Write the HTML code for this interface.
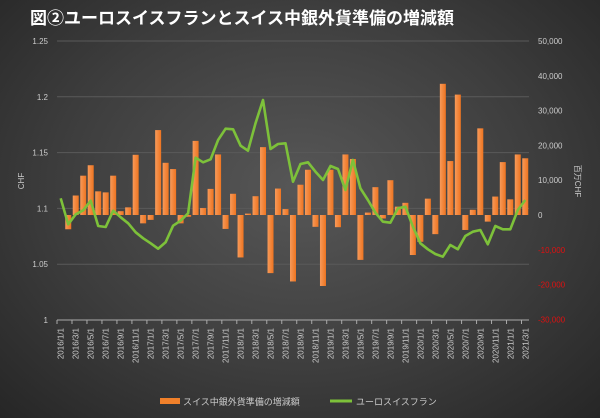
<!DOCTYPE html>
<html><head><meta charset="utf-8"><style>
html,body{margin:0;padding:0;}
body{width:600px;height:418px;overflow:hidden;background:radial-gradient(ellipse at 50% 45%,#575757 0%,#3e3e3e 55%,#262626 100%);font-family:"Liberation Sans","Noto Sans CJK JP",sans-serif;}
svg{position:absolute;left:0;top:0;}
</style></head><body>
<svg id="s" width="600" height="418" xmlns="http://www.w3.org/2000/svg">
<defs><linearGradient id="bg" x1="0" x2="1"><stop offset="0" stop-color="#f79a5a"/><stop offset="1" stop-color="#ee7420"/></linearGradient></defs>
<text x="30" y="24" fill="#fff" font-size="17" font-weight="bold" font-family="Liberation Sans,Noto Sans CJK JP,sans-serif">図②ユーロスイスフランとスイス中銀外貨準備の増減額</text>
<g id="grid"></g><g id="bars"></g><g id="ln"></g><g id="lab"></g>
<g transform="translate(160,398)"><rect x="0" y="0" width="20" height="6" fill="#f0802a"/><text x="23" y="7" fill="#ccc" font-size="9" font-family="Liberation Sans,Noto Sans CJK JP,sans-serif">スイス中銀外貨準備の増減額</text></g>
<g transform="translate(330,401)"><line x1="0" y1="0" x2="22" y2="0" stroke="#7dc13a" stroke-width="3"/><text x="26" y="4" fill="#ccc" font-size="9" font-family="Liberation Sans,Noto Sans CJK JP,sans-serif">ユーロスイスフラン</text></g>
<text transform="translate(24,181) rotate(-90)" text-anchor="middle" fill="#ccc" font-size="8">CHF</text>
<text transform="translate(575,181) rotate(90)" text-anchor="middle" fill="#ccc" font-size="8" font-family="Liberation Sans,Noto Sans CJK JP,sans-serif">百万CHF</text>
</svg>
<script>
const NS="http://www.w3.org/2000/svg";
function el(p,t,a,txt){const e=document.createElementNS(NS,t);for(const k in a)e.setAttribute(k,a[k]);if(txt!=null)e.textContent=txt;document.getElementById(p).appendChild(e);return e;}
const X0=57,X1=529,N=63,st=(X1-X0)/N;
const cx=i=>X0+st*(i+0.5);
const yL=v=>320-(v-1)*1116, yR=v=>215-v*0.00348;
// grid
for(let k=0;k<=5;k++){const y=41+k*55.8;
 if(k<5)el("grid","line",{x1:X0,x2:X1,y1:y,y2:y,stroke:"#5a5a5a","stroke-width":1});
 el("grid","text",{x:48,y:y+3,"text-anchor":"end",fill:"#ccc","font-size":8},(1.25-k*0.05).toFixed(k==5?0:2).replace(/0$/,"").replace(/^1\.$/,"1").replace(/^1\.2$/,"1.2"));
}
const rl=["50,000","40,000","30,000","20,000","10,000","0","-10,000","-20,000","-30,000"];
for(let k=0;k<9;k++){const y=41+k*34.8;el("grid","text",{x:538,y:y+3,fill:k>5?"#e01010":"#ccc","font-size":8},rl[k]);}
el("grid","line",{x1:X0,x2:X1,y1:320,y2:320,stroke:"#aaa","stroke-width":1});
for(let i=0;i<=N;i+=2)el("grid","line",{x1:X0+st*i,x2:X0+st*i,y1:320,y2:324,stroke:"#aaa"});
// bars (cats 1..62)
const b=[-4100,5600,11300,14300,6800,6500,11300,1100,2200,17300,-2400,-1400,24400,15000,13200,-2400,-500,21300,2000,7500,17400,-4000,6100,-12200,400,5400,19500,-16700,7600,1700,-19100,8700,13000,-3400,-20400,13000,-3500,17400,16100,-12900,700,8000,-1000,10000,2400,3500,-11500,-7700,4700,-5500,37700,15500,34600,-4300,1500,24900,-1900,5300,15200,4500,17400,16300];
b.forEach((v,j)=>{const i=j+1,y=yR(v),y0=215;el("bars","rect",{x:cx(i)-3,y:Math.min(y,y0),width:6,height:Math.max(1,Math.abs(y-y0)),fill:"url(#bg)"});});
// line
const z=[505,583,553,541,512,588,591,542,562,580,607,625,640,656,637,587,572,550,383,397,388,330,296,298,347,362,280,210,357,342,340,455,402,397,425,450,408,417,480,390,475,510,548,575,578,535,530,590,640,658,672,680,645,658,618,605,600,643,588,598,598,540,510];
el("ln","polyline",{points:z.map((v,i)=>cx(i).toFixed(1)+","+(30+v/3).toFixed(1)).join(" "),fill:"none",stroke:"#7dc13a","stroke-width":2.6,"stroke-linejoin":"round"});
// x labels
for(let i=0;i<N;i+=2){const m=i%12+1,yr=2016+Math.floor(i/12);
 el("lab","text",{transform:`translate(${cx(i)+3},328) rotate(-90)`,"text-anchor":"end",fill:"#ccc","font-size":8},`${yr}/${m}/1`);}
</script>
</body></html>
